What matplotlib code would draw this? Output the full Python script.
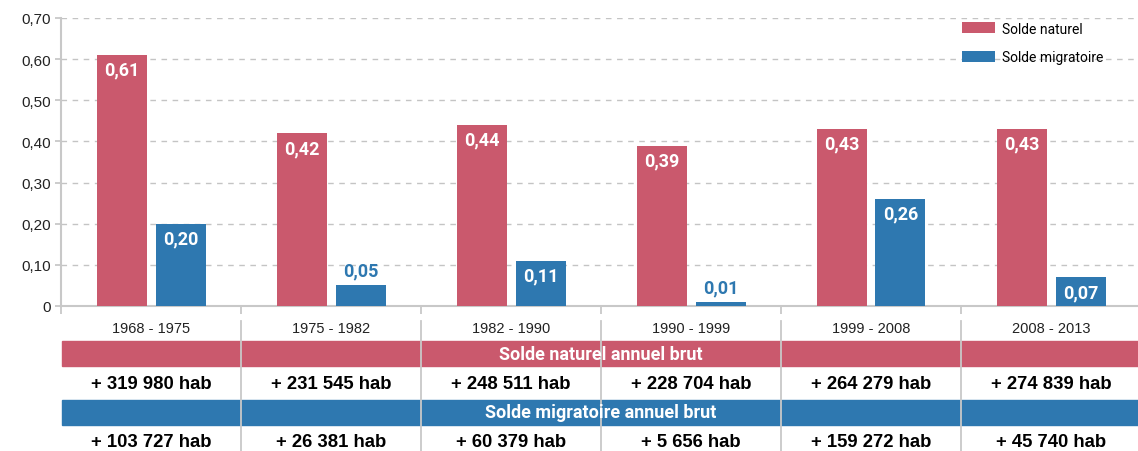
import numpy as np
import matplotlib
matplotlib.use("Agg")
import matplotlib.pyplot as plt

periodes = ["1968 - 1975", "1975 - 1982", "1982 - 1990", "1990 - 1999", "1999 - 2008", "2008 - 2013"]
solde_naturel = [0.61, 0.42, 0.44, 0.39, 0.43, 0.43]
solde_migratoire = [0.20, 0.05, 0.11, 0.01, 0.26, 0.07]
naturel_brut = ["+ 319 980 hab", "+ 231 545 hab", "+ 248 511 hab", "+ 228 704 hab", "+ 264 279 hab", "+ 274 839 hab"]
migratoire_brut = ["+ 103 727 hab", "+ 26 381 hab", "+ 60 379 hab", "+ 5 656 hab", "+ 159 272 hab", "+ 45 740 hab"]
yticks = [0, 0.1, 0.2, 0.3, 0.4, 0.5, 0.6, 0.7]
ytick_labels = ["0", "0,10", "0,20", "0,30", "0,40", "0,50", "0,60", "0,70"]

ROSE = "#CA596D"
BLEU = "#2E78B0"
GRIS = "#c8c8c8"
plt.rcParams["font.family"] = ["Liberation Sans", "DejaVu Sans"]
COND = ["Roboto", "DejaVu Sans"]

W, H = 1138, 452
fig = plt.figure(figsize=(W / 100, H / 100), dpi=100)

def fy(py):
    # pixel y (from top) -> figure fraction
    return 1 - py / H

ax = fig.add_axes([61 / W, fy(307), 1 - 61 / W, fy(19) - fy(307)])
x = np.arange(len(periodes))
bw = 50 / 180
off = 29.5 / 180
ax.bar(x - off, solde_naturel, bw, color=ROSE, label="Solde naturel", zorder=3)
ax.bar(x + off, solde_migratoire, bw, color=BLEU, label="Solde migratoire", zorder=3)

ax.set_xlim(-0.5, 5.5 - 3 / 180)
ax.set_ylim(0, 0.7)
ax.set_yticks(yticks)
ax.set_yticklabels(ytick_labels, fontsize=11, color="#222222")
ax.set_xticks(np.arange(-0.5, 5.5, 1))
ax.set_xticklabels([])
ax.tick_params(axis="both", color=GRIS, width=1.3, length=4)
ax.tick_params(axis="x", length=6)
ax.grid(axis="y", linestyle=(0, (4, 4)), color="#c4c4c4", linewidth=1, zorder=0)
for s in ["top", "right"]:
    ax.spines[s].set_visible(False)
for s in ["left", "bottom"]:
    ax.spines[s].set_color(GRIS)
    ax.spines[s].set_linewidth(1.5)

# value labels
for i, v in enumerate(solde_naturel):
    ax.text(x[i] - off, v - 0.014, f"{v:.2f}".replace(".", ","), ha="center", va="top",
            color="white", fontsize=13, fontweight="bold", family=COND, zorder=4)
for i, v in enumerate(solde_migratoire):
    lab = f"{v:.2f}".replace(".", ",")
    if v < 0.06:
        ax.text(x[i] + off, v + 0.014, lab, ha="center", va="bottom",
                color=BLEU, fontsize=13, fontweight="bold", family=COND, zorder=4)
    else:
        ax.text(x[i] + off, v - 0.014, lab, ha="center", va="top",
                color="white", fontsize=13, fontweight="bold", family=COND, zorder=4)

leg = ax.legend(loc="upper left", bbox_to_anchor=(949 / W, fy(10)), bbox_transform=fig.transFigure,
                frameon=False, handlelength=2.4, handleheight=0.8, labelspacing=1.05,
                handletextpad=0.55, prop={"family": COND, "size": 10})

# table below the chart
tab = fig.add_axes([61 / W, 0, 1 - 61 / W, fy(307)])
tab.set_xlim(ax.get_xlim())
tab.set_ylim(H, 307)
tab.axis("off")
tab.axhspan(342, 367, xmin=1 / W, color=ROSE, zorder=1)
tab.axhspan(401, 426, xmin=1 / W, color=BLEU, zorder=1)
for b in np.arange(0.5, 5.5, 1):
    tab.plot([b, b], [322, H], color=GRIS, linewidth=1.3, zorder=2)
for i in range(len(periodes)):
    tab.text(x[i], 329, periodes[i], ha="center", va="center", fontsize=10.5, color="#222222")
    tab.text(x[i], 385, naturel_brut[i], ha="center", va="center", fontsize=13.3,
             fontweight="bold", color="black")
    tab.text(x[i], 443, migratoire_brut[i], ha="center", va="center", fontsize=13.3,
             fontweight="bold", color="black")
tab.text(2.5, 354.5, "Solde naturel annuel brut", ha="center", va="center", color="white",
         fontsize=13, fontweight="bold", family=COND, zorder=3)
tab.text(2.5, 413.5, "Solde migratoire annuel brut", ha="center", va="center", color="white",
         fontsize=13, fontweight="bold", family=COND, zorder=3)

fig.savefig("out.png", dpi=100)
